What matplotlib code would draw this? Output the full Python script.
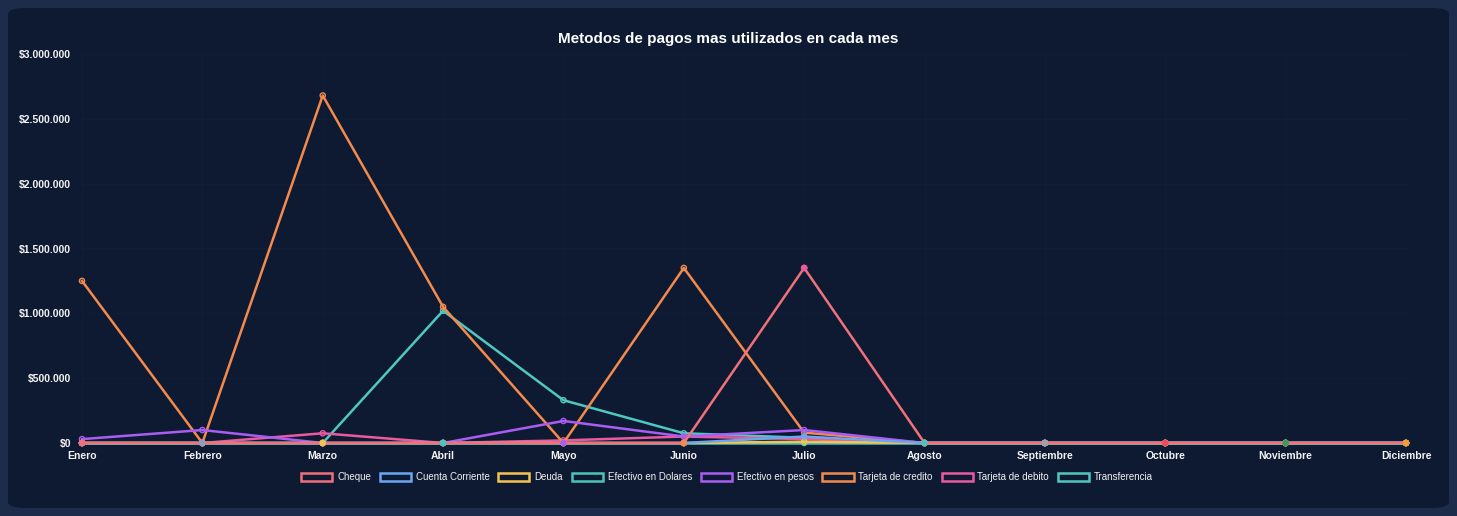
import matplotlib
matplotlib.use("Agg")
import matplotlib.pyplot as plt
from matplotlib.patches import FancyBboxPatch, Rectangle
from matplotlib.ticker import FuncFormatter, MultipleLocator

plt.rcParams['font.family'] = ['Liberation Sans', 'DejaVu Sans']

# DATA
meses = ["Enero", "Febrero", "Marzo", "Abril", "Mayo", "Junio", "Julio",
         "Agosto", "Septiembre", "Octubre", "Noviembre", "Diciembre"]

cheque = [0, 0, 0, 0, 0, 0, 1350000, 0, 0, 0, 0, 0]
cuenta_corriente = [0, 0, 0, 0, 0, 0, 50000, 0, 0, 0, 0, 0]
deuda = [0, 0, 0, 0, 0, 0, 10000, 0, 0, 0, 0, 0]
efectivo_dolares = [0, 0, 0, 0, 0, 0, 0, 0, 0, 0, 0, 0]
efectivo_pesos = [30000, 100000, 0, 0, 170000, 50000, 100000, 0, 0, 0, 0, 0]
tarjeta_credito = [1250000, 0, 2680000, 1050000, 0, 1350000, 80000, 0, 0, 0, 0, 0]
tarjeta_debito = [0, 0, 75000, 0, 20000, 50000, 30000, 0, 0, 0, 0, 0]
transferencia = [0, 0, 0, 1020000, 330000, 75000, 40000, 0, 0, 0, 0, 0]

series = [
    ("Cheque", cheque, "#f0717a"),
    ("Cuenta Corriente", cuenta_corriente, "#6aa6f2"),
    ("Deuda", deuda, "#f6c350"),
    ("Efectivo en Dolares", efectivo_dolares, "#4cc4bb"),
    ("Efectivo en pesos", efectivo_pesos, "#a95df3"),
    ("Tarjeta de credito", tarjeta_credito, "#f48a4c"),
    ("Tarjeta de debito", tarjeta_debito, "#ea5aa0"),
    ("Transferencia", transferencia, "#4fc8c0"),
]

# per-month point colours of the top dataset
point_colors = ["#f0717a", "#8e9cc4", "#f6c350", "#4cc4bb", "#a95df3", "#f48a4c",
                "#ea5aa0", "#4cc4bb", "#9ca3af", "#ef4b55", "#3f9a52", "#f59e2b"]

BG = "#0e1a32"
FRAME = "#1d2c4a"

fig = plt.figure(figsize=(14.57, 5.16), dpi=100, facecolor=FRAME)
panel = FancyBboxPatch((8 / 1457, 8 / 516), 1441 / 1457, 500 / 516,
                       boxstyle="round,pad=0,rounding_size=0.012",
                       transform=fig.transFigure, facecolor=BG, edgecolor="none",
                       zorder=0)
fig.patches.append(panel)

ax = fig.add_axes([82 / 1457, 73 / 516, 1324 / 1457, 389 / 516])
ax.set_zorder(2)
ax.patch.set_alpha(0)

x = list(range(len(meses)))
# Chart.js draws the first dataset on top
for i, (name, vals, col) in enumerate(series):
    z = 10 + len(series) - i
    ax.plot(x, vals, color=col, lw=1.8, zorder=z, solid_joinstyle="round", clip_on=False)
    ax.scatter(x, vals, s=14, facecolor="none", edgecolor=col, linewidth=1.0,
               zorder=z, clip_on=False)
ax.scatter(x, cheque, s=14, facecolor=point_colors, edgecolor=point_colors,
           linewidth=1.0, zorder=30, clip_on=False)

ax.set_xlim(0, 11)
ax.set_ylim(0, 3000000)
ax.yaxis.set_major_locator(MultipleLocator(500000))
ax.yaxis.set_major_formatter(FuncFormatter(lambda v, p: "$" + f"{int(v):,}".replace(",", ".")))
ax.set_xticks(x)
ax.set_xticklabels(meses)
ax.tick_params(axis="both", length=0, colors="white", labelsize=7.5)
ax.tick_params(axis="x", pad=6)
ax.tick_params(axis="y", pad=8)
for lab in ax.get_xticklabels() + ax.get_yticklabels():
    lab.set_fontweight("bold")
    lab.set_color("#f2f2f2")
ax.grid(True, color="#111d37", lw=0.8, zorder=0)
for s in ax.spines.values():
    s.set_visible(False)

fig.text(0.5, 1 - 39 / 516, "Metodos de pagos mas utilizados en cada mes",
         ha="center", va="center", color="white", fontsize=11, fontweight="bold")

handles = [Rectangle((0, 0), 1, 1, facecolor=BG, edgecolor=col, linewidth=1.8)
           for _, _, col in series]
leg = fig.legend(handles, [n for n, _, _ in series], loc="center",
                 bbox_to_anchor=(727 / 1457, 1 - 477 / 516), ncol=8, frameon=False,
                 fontsize=7, handlelength=3.2, handleheight=0.9, handletextpad=0.5,
                 columnspacing=0.9)
for t in leg.get_texts():
    t.set_color("#f2f2f2")

fig.savefig("out.png", dpi=100, facecolor=FRAME)
